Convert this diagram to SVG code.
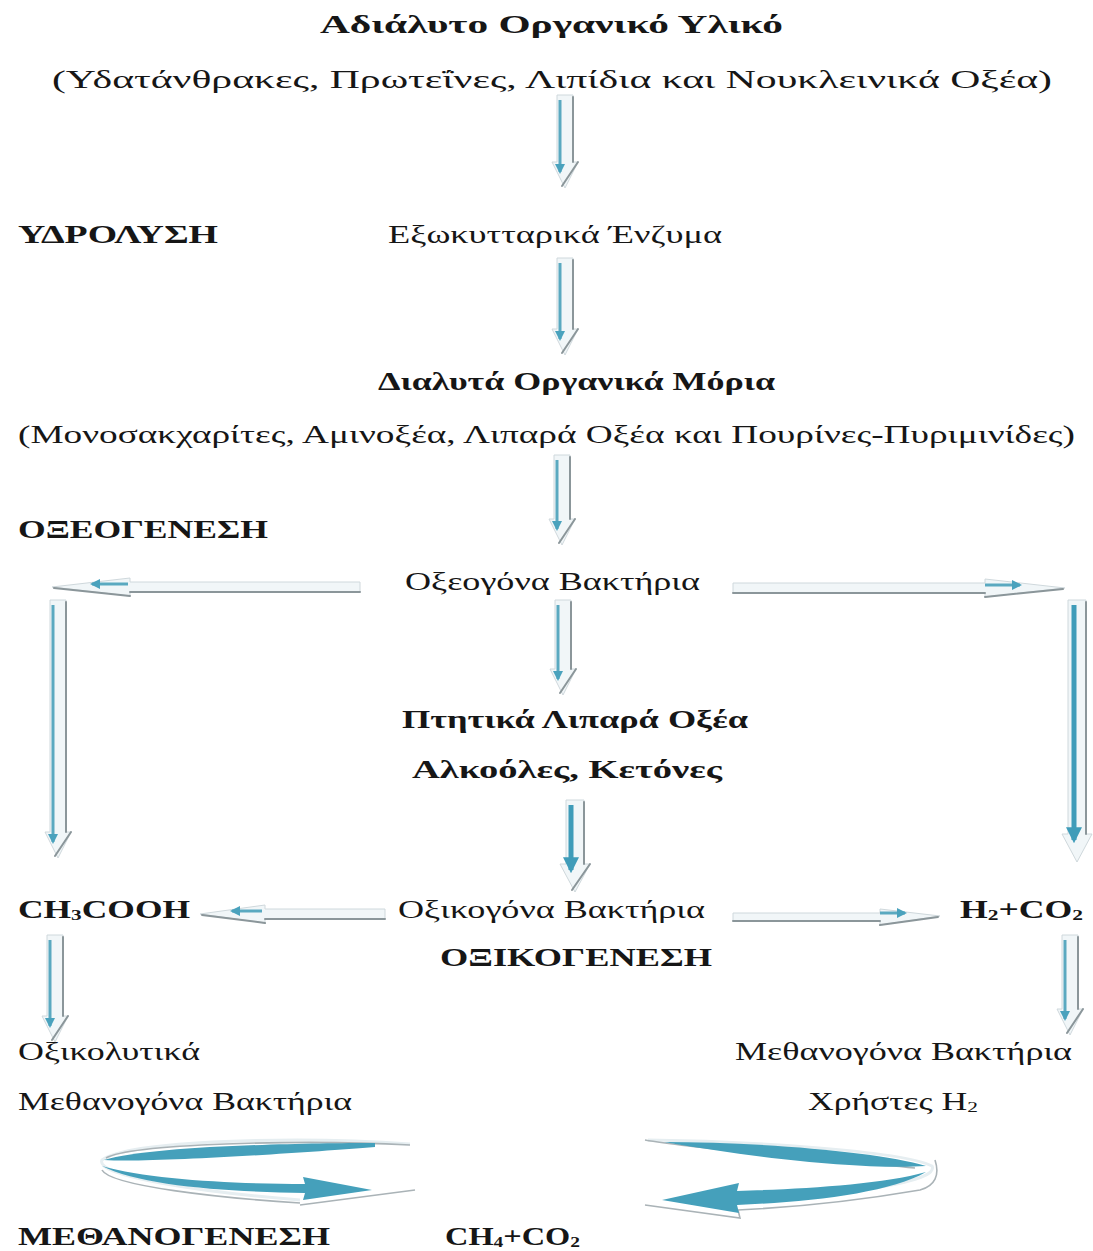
<svg xmlns="http://www.w3.org/2000/svg" width="1093" height="1251" viewBox="0 0 1093 1251">
  <style>
    text { font-family: "Liberation Serif", "DejaVu Serif", serif; font-size: 25px; fill: #161616; }
    .b { font-weight: bold; }
    .body { fill: #f1f6f8; stroke: #cfd8dc; stroke-width: 1; }
    .shade { fill: none; stroke: #8b969a; stroke-width: 2; stroke-linecap: round; }
    .core { fill: none; stroke: #5aa9c0; stroke-width: 3; }
    .core.strong { stroke: #3f9cb9; stroke-width: 5; }
    .band { fill: #45a0bb; }
    .rim { fill: none; stroke: #aab3b7; stroke-width: 1.6; }
    .rim2 { fill: none; stroke: #e6eef1; stroke-width: 3; }
  </style>
  <defs>
    <marker id="tealHead" viewBox="0 0 10 10" refX="8" refY="5" markerWidth="10" markerHeight="10" markerUnits="userSpaceOnUse" orient="auto">
      <path d="M0 0 L10 5 L0 10 Z" fill="#4aa2bd"/>
    </marker>
    <marker id="tealHeadBig" viewBox="0 0 10 10" refX="8" refY="5" markerWidth="16" markerHeight="16" markerUnits="userSpaceOnUse" orient="auto">
      <path d="M0 0 L10 5 L0 10 Z" fill="#3f9cb9"/>
    </marker>
  </defs>

  <!-- labels -->
  <g id="n-insoluble">
    <text class="b" x="320" y="33" textLength="463" lengthAdjust="spacingAndGlyphs">Αδιάλυτο Οργανικό Υλικό</text>
    <text x="52" y="88" textLength="1000" lengthAdjust="spacingAndGlyphs">(Υδατάνθρακες, Πρωτεΐνες, Λιπίδια και Νουκλεινικά Οξέα)</text>
  </g>
  <g id="n-hydrolysis">
    <text class="b" x="18" y="243" textLength="200" lengthAdjust="spacingAndGlyphs">ΥΔΡΟΛΥΣΗ</text>
  </g>
  <g id="n-enzymes">
    <text x="388" y="243" textLength="334" lengthAdjust="spacingAndGlyphs">Εξωκυτταρικά Ένζυμα</text>
  </g>
  <g id="n-soluble">
    <text class="b" x="378" y="390" textLength="397" lengthAdjust="spacingAndGlyphs">Διαλυτά Οργανικά Μόρια</text>
    <text x="18" y="443" textLength="1057" lengthAdjust="spacingAndGlyphs">(Μονοσακχαρίτες, Αμινοξέα, Λιπαρά Οξέα και Πουρίνες-Πυριμινίδες)</text>
  </g>
  <g id="n-acidogenesis">
    <text class="b" x="18" y="538" textLength="250" lengthAdjust="spacingAndGlyphs">ΟΞΕΟΓΕΝΕΣΗ</text>
  </g>
  <g id="n-acidogenic">
    <text x="405" y="590" textLength="295" lengthAdjust="spacingAndGlyphs">Οξεογόνα Βακτήρια</text>
  </g>
  <g id="n-vfa">
    <text class="b" x="402" y="728" textLength="346" lengthAdjust="spacingAndGlyphs">Πτητικά Λιπαρά Οξέα</text>
    <text class="b" x="412" y="778" textLength="310" lengthAdjust="spacingAndGlyphs">Αλκοόλες, Κετόνες</text>
  </g>
  <g id="n-acetic">
    <text class="b" x="18" y="918" textLength="172" lengthAdjust="spacingAndGlyphs">CH<tspan font-size="15" dy="2">3</tspan><tspan dy="-2">COOH</tspan></text>
  </g>
  <g id="n-acetogenic">
    <text x="398" y="918" textLength="307" lengthAdjust="spacingAndGlyphs">Οξικογόνα Βακτήρια</text>
  </g>
  <g id="n-h2co2">
    <text class="b" x="960" y="918" textLength="123" lengthAdjust="spacingAndGlyphs">H<tspan font-size="15" dy="2">2</tspan><tspan dy="-2">+CO</tspan><tspan font-size="15" dy="2">2</tspan></text>
  </g>
  <g id="n-acetogenesis">
    <text class="b" x="440" y="966" textLength="272" lengthAdjust="spacingAndGlyphs">ΟΞΙΚΟΓΕΝΕΣΗ</text>
  </g>
  <g id="n-aceticlastic">
    <text x="18" y="1060" textLength="182" lengthAdjust="spacingAndGlyphs">Οξικολυτικά</text>
    <text x="18" y="1110" textLength="334" lengthAdjust="spacingAndGlyphs">Μεθανογόνα Βακτήρια</text>
  </g>
  <g id="n-hydrogenotrophic">
    <text x="735" y="1060" textLength="337" lengthAdjust="spacingAndGlyphs">Μεθανογόνα Βακτήρια</text>
    <text x="808" y="1110" textLength="170" lengthAdjust="spacingAndGlyphs">Χρήστες H<tspan font-size="15" dy="2">2</tspan></text>
  </g>
  <g id="n-methanogenesis">
    <text class="b" x="18" y="1245" textLength="312" lengthAdjust="spacingAndGlyphs">ΜΕΘΑΝΟΓΕΝΕΣΗ</text>
  </g>
  <g id="n-ch4co2">
    <text class="b" x="445" y="1245" textLength="135" lengthAdjust="spacingAndGlyphs">CH<tspan font-size="15" dy="2">4</tspan><tspan dy="-2">+CO</tspan><tspan font-size="15" dy="2">2</tspan></text>
  </g>

  <!-- connectors: block arrows with shaded edge and teal core -->
  <g id="connectors">
    <!-- insoluble -> enzymes (cx 565, 95..188) -->
    <g>
      <path class="body" d="M557 95 H573 V162 L578 162 L565 188 L552 162 H557 Z"/>
      <path class="shade" d="M573 97 V162 M578 162 L562 186"/>
      <path class="core" d="M560 100 V172" marker-end="url(#tealHead)"/>
    </g>
    <!-- enzymes -> soluble (cx 565, 258..355) -->
    <g>
      <path class="body" d="M557 258 H573 V329 L578 329 L565 355 L552 329 H557 Z"/>
      <path class="shade" d="M573 260 V329 M578 329 L562 353"/>
      <path class="core" d="M560 263 V339" marker-end="url(#tealHead)"/>
    </g>
    <!-- soluble -> acidogenic (cx 562, 455..545) -->
    <g>
      <path class="body" d="M554 455 H570 V519 L575 519 L562 545 L549 519 H554 Z"/>
      <path class="shade" d="M570 457 V519 M575 519 L559 543"/>
      <path class="core" d="M557 460 V529" marker-end="url(#tealHead)"/>
    </g>
    <!-- acidogenic -> VFA (cx 563, 600..695) -->
    <g>
      <path class="body" d="M555 600 H571 V669 L576 669 L563 695 L550 669 H555 Z"/>
      <path class="shade" d="M571 602 V669 M576 669 L560 693"/>
      <path class="core" d="M558 605 V679" marker-end="url(#tealHead)"/>
    </g>
    <!-- VFA -> acetogenic (cx 575, 800..892) -->
    <g>
      <path class="body" d="M566 800 H584 V864 L590 864 L575 892 L560 864 H566 Z"/>
      <path class="shade" d="M584 802 V864 M590 864 L572 890"/>
      <path class="core strong" d="M571 805 V870" marker-end="url(#tealHeadBig)"/>
    </g>

    <!-- acidogenic -> left (to acetic) -->
    <g>
      <path class="body" d="M360 582 H130 V578 L52 587 L130 596 V592 H360 Z"/>
      <path class="shade" d="M360 592 H130 M130 596 L54 588"/>
      <path class="core" d="M128 584 H92" marker-end="url(#tealHead)"/>
    </g>
    <!-- acidogenic -> right (to H2+CO2) -->
    <g>
      <path class="body" d="M733 583 H985 V579 L1065 588 L985 597 V593 H733 Z"/>
      <path class="shade" d="M733 593 H985 M985 597 L1063 589"/>
      <path class="core" d="M985 585 H1020" marker-end="url(#tealHead)"/>
    </g>
    <!-- left long down -> CH3COOH -->
    <g>
      <path class="body" d="M50 600 H66 V832 L71 832 L58 858 L45 832 H50 Z"/>
      <path class="shade" d="M66 602 V832 M71 832 L55 856"/>
      <path class="core" d="M53 605 V842" marker-end="url(#tealHead)"/>
    </g>
    <!-- right long down -> H2+CO2 -->
    <g>
      <path class="body" d="M1068 600 H1086 V834 L1092 834 L1077 862 L1062 834 H1068 Z"/>
      <path class="shade" d="M1086 602 V834"/>
      <path class="core strong" d="M1074 605 V840" marker-end="url(#tealHeadBig)"/>
    </g>
    <!-- acetogenic -> CH3COOH -->
    <g>
      <path class="body" d="M385 909 H265 V905 L200 914 L265 923 V919 H385 Z"/>
      <path class="shade" d="M385 919 H265 M265 923 L202 915"/>
      <path class="core" d="M262 911 H232" marker-end="url(#tealHead)"/>
    </g>
    <!-- acetogenic -> H2+CO2 -->
    <g>
      <path class="body" d="M733 913 H880 V909 L940 916 L880 925 V921 H733 Z"/>
      <path class="shade" d="M733 921 H880 M880 925 L938 917"/>
      <path class="core" d="M880 913 H905" marker-end="url(#tealHead)"/>
    </g>
    <!-- CH3COOH -> aceticlastic methanogens -->
    <g>
      <path class="body" d="M47 935 H63 V1016 L68 1016 L55 1042 L42 1016 H47 Z"/>
      <path class="shade" d="M63 937 V1016 M68 1016 L52 1040"/>
      <path class="core" d="M50 940 V1026" marker-end="url(#tealHead)"/>
    </g>
    <!-- H2+CO2 -> hydrogenotrophic methanogens -->
    <g>
      <path class="body" d="M1062 935 H1078 V1009 L1083 1009 L1070 1035 L1057 1009 H1062 Z"/>
      <path class="shade" d="M1078 937 V1009 M1083 1009 L1067 1033"/>
      <path class="core" d="M1065 940 V1019" marker-end="url(#tealHead)"/>
    </g>

    <!-- aceticlastic -> CH4+CO2 (curved loop) -->
    <g>
      <path class="rim2" d="M410 1144 C300 1136 130 1140 102 1160 C94 1176 200 1192 300 1200"/>
      <path class="rim" d="M410 1145 C300 1139 130 1144 106 1158 M102 1170 C110 1186 220 1198 300 1203 M300 1205 L415 1190"/>
      <path class="band" d="M375 1143 C300 1143 150 1146 104 1160 C150 1163 300 1153 375 1147 Z"/>
      <path class="band" d="M102 1166 C150 1180 240 1184 305 1184 L303 1177 L372 1190 L303 1200 L305 1193 C230 1192 140 1186 102 1166 Z"/>
    </g>
    <!-- hydrogenotrophic -> CH4+CO2 (curved loop) -->
    <g>
      <path class="rim2" d="M648 1140 C740 1141 900 1150 932 1166 C940 1182 850 1194 740 1202"/>
      <path class="rim" d="M645 1140 C700 1150 840 1160 915 1168 M935 1160 C940 1175 935 1186 920 1190 C850 1202 780 1208 738 1210 L740 1218 L645 1205"/>
      <path class="band" d="M664 1142 C760 1142 880 1152 926 1166 C870 1170 760 1159 664 1142 Z"/>
      <path class="band" d="M926 1172 C880 1185 800 1189 737 1191 L739 1183 L662 1200 L739 1213 L737 1205 C810 1202 890 1193 926 1172 Z"/>
    </g>
  </g>
</svg>
